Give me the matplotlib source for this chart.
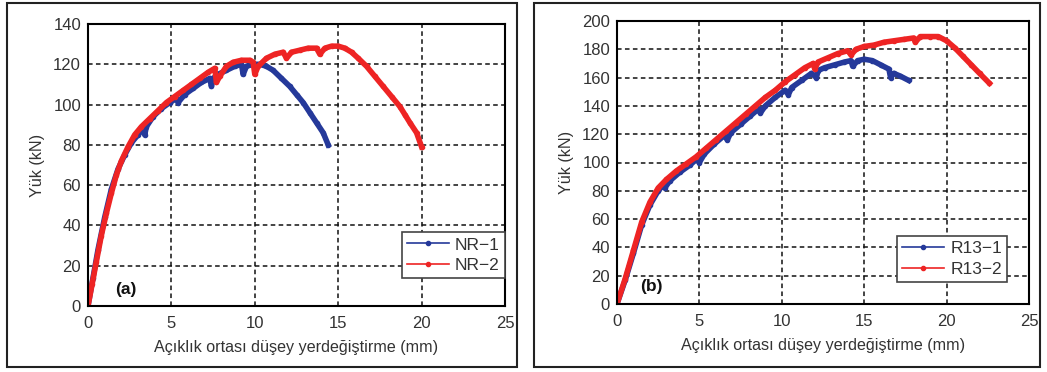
import matplotlib.pyplot as plt
from matplotlib.patches import Rectangle

# panel (a)
nr1_x = [0, 0.3, 0.6, 1.0, 1.4, 1.8, 2.2, 2.6, 3.0, 3.3, 3.4, 3.5, 3.9, 4.4, 4.9, 5.3, 5.4, 5.8,
         6.3, 6.8, 7.3, 7.4, 7.5, 7.8, 8.3, 8.8, 9.2, 9.3, 9.5, 9.9, 10.3, 10.7, 11.1, 11.6, 12.1,
         12.5, 12.9, 13.3, 13.7, 14.1, 14.4]
nr1_y = [0, 14, 28, 44, 58, 68, 75, 81, 85, 88, 85, 89, 94, 98, 101, 103, 101, 105,
         108, 111, 113, 109, 113, 115, 117, 119, 120, 115, 119, 120, 120, 119, 117, 113, 109,
         105, 101, 96, 91, 86, 80]
nr2_x = [0, 0.25, 0.5, 0.8, 1.1, 1.4, 1.7, 2.0, 2.4, 2.8, 3.2, 3.7, 4.2, 4.7, 5.2, 5.7, 6.2, 6.7,
         7.2, 7.6, 7.7, 7.9, 8.3, 8.7, 9.2, 9.7, 9.9, 10.0, 10.2, 10.7, 11.2, 11.7, 11.9, 12.2,
         12.7, 13.2, 13.7, 13.9, 14.2, 14.6, 15.0, 15.4, 15.8, 16.2, 16.7, 17.2, 17.7, 18.2,
         18.7, 19.0, 19.3, 19.7, 20.0]
nr2_y = [0, 11, 22, 35, 46, 56, 65, 72, 79, 85, 89, 93, 97, 101, 104, 107, 110, 113,
         116, 118, 111, 114, 119, 121, 122, 122, 121, 115, 119, 123, 125, 126, 123, 126,
         127, 128, 128, 125, 128, 129, 129, 128, 126, 123, 119, 114, 109, 104,
         99, 95, 91, 86, 79]

# panel (b)
r1_x = [0, 0.5, 1.0, 1.5, 2.0, 2.5, 2.8, 2.9, 3.2, 3.8, 4.4, 4.9, 5.0, 5.3, 5.9, 6.5, 6.7, 6.9,
        7.5, 8.1, 8.6, 8.7, 9.0, 9.6, 10.2, 10.4, 10.6, 11.2, 11.8, 12.1, 12.2, 12.6, 13.2, 13.8,
        14.2, 14.3, 14.6, 15.0, 15.5, 16.0, 16.5, 16.6, 16.8, 17.2, 17.7]
r1_y = [0, 17, 36, 56, 70, 80, 84, 82, 87, 93, 98, 103, 100, 106, 113, 119, 116, 121,
        127, 133, 138, 135, 140, 146, 151, 148, 153, 158, 163, 160, 165, 167, 169, 171,
        172, 168, 172, 173, 172, 169, 166, 160, 163, 161, 158]
r2_x = [0, 0.5, 1.0, 1.5, 2.0, 2.5, 3.0, 3.6, 4.2, 4.8, 5.4, 6.0, 6.6, 7.2, 7.8, 8.4, 9.0, 9.6,
        10.2, 10.8, 11.4, 11.9, 12.0, 12.2, 12.8, 13.4, 14.0, 14.2, 14.5, 15.0, 15.6, 16.2,
        16.8, 17.4, 18.0, 18.1, 18.4, 19.0, 19.5, 20.0, 20.5, 21.0, 21.5, 22.0, 22.6]
r2_y = [0, 18, 38, 58, 72, 82, 88, 94, 99, 104, 110, 116, 122, 128, 134, 140, 146, 151,
        157, 162, 167, 170, 166, 171, 174, 177, 179, 176, 180, 182, 183, 185,
        186, 187, 188, 185, 189, 189, 189, 186, 181, 175, 169, 163, 156]

blue = "#25399a"
red = "#ee2424"
txt = "#333333"

plt.rcParams["font.family"] = ["Liberation Sans", "DejaVu Sans"]

fig = plt.figure(figsize=(10.47, 3.72), dpi=100)
W, H = 1047, 372

# panel frames
for x0, x1 in [(7, 517), (534, 1040)]:
    fig.patches.append(Rectangle((x0 / W, 1 - 367 / H), (x1 - x0) / W, 364 / H,
                                 transform=fig.transFigure, fill=False,
                                 edgecolor="#222222", linewidth=1.5))

ax1 = fig.add_axes([88 / W, 1 - 306 / H, 417 / W, 282 / H])
ax2 = fig.add_axes([617 / W, 1 - 304 / H, 412 / W, 283 / H])

panels = [
    (ax1, nr1_x, nr1_y, nr2_x, nr2_y, "NR\u22121", "NR\u22122", 140, 20, "(a)", (1.6, 6), (1.0, 0.099)),
    (ax2, r1_x, r1_y, r2_x, r2_y, "R13\u22121", "R13\u22122", 200, 20, "(b)", (1.4, 9), (0.947, 0.078)),
]

for ax, bx, by, rx, ry, lb, lr, ymax, ystep, tag, tagpos, legpos in panels:
    ax.plot(bx, by, color=blue, lw=4, marker="o", ms=3, label=lb)
    ax.plot(rx, ry, color=red, lw=4, marker="o", ms=3, label=lr)
    ax.set_xlim(0, 25)
    ax.set_ylim(0, ymax)
    ax.set_xticks(range(0, 26, 5))
    ax.set_yticks(range(0, ymax + 1, ystep))
    ax.grid(True, color="#111111", linestyle=(0, (3, 2.2)), linewidth=1.1)
    ax.set_axisbelow(True)
    for s in ax.spines.values():
        s.set_linewidth(1.5)
        s.set_color("black")
    ax.tick_params(length=0, labelsize=12, labelcolor=txt, pad=5)
    ax.tick_params(axis="x", pad=7)
    ax.set_xlabel("Açıklık ortası düşey yerdeğiştirme (mm)", fontsize=11.6, color=txt, labelpad=7)
    ax.set_ylabel("Yük (kN)", fontsize=11.6, color=txt, labelpad=6)
    ax.text(tagpos[0], tagpos[1], tag, fontsize=12.5, fontweight="bold", color="#111111")
    leg = ax.legend(loc="lower right", bbox_to_anchor=legpos, fontsize=12.5, fancybox=False,
                    framealpha=1, edgecolor="#444444", borderaxespad=0, handlelength=2.4,
                    labelspacing=0.3, handletextpad=0.35, borderpad=0.3)
    leg.get_frame().set_linewidth(1.2)
    for t in leg.get_texts():
        t.set_color(txt)
    for h in leg.get_lines():
        h.set_linewidth(1.2)

fig.savefig("out.png", dpi=100)
